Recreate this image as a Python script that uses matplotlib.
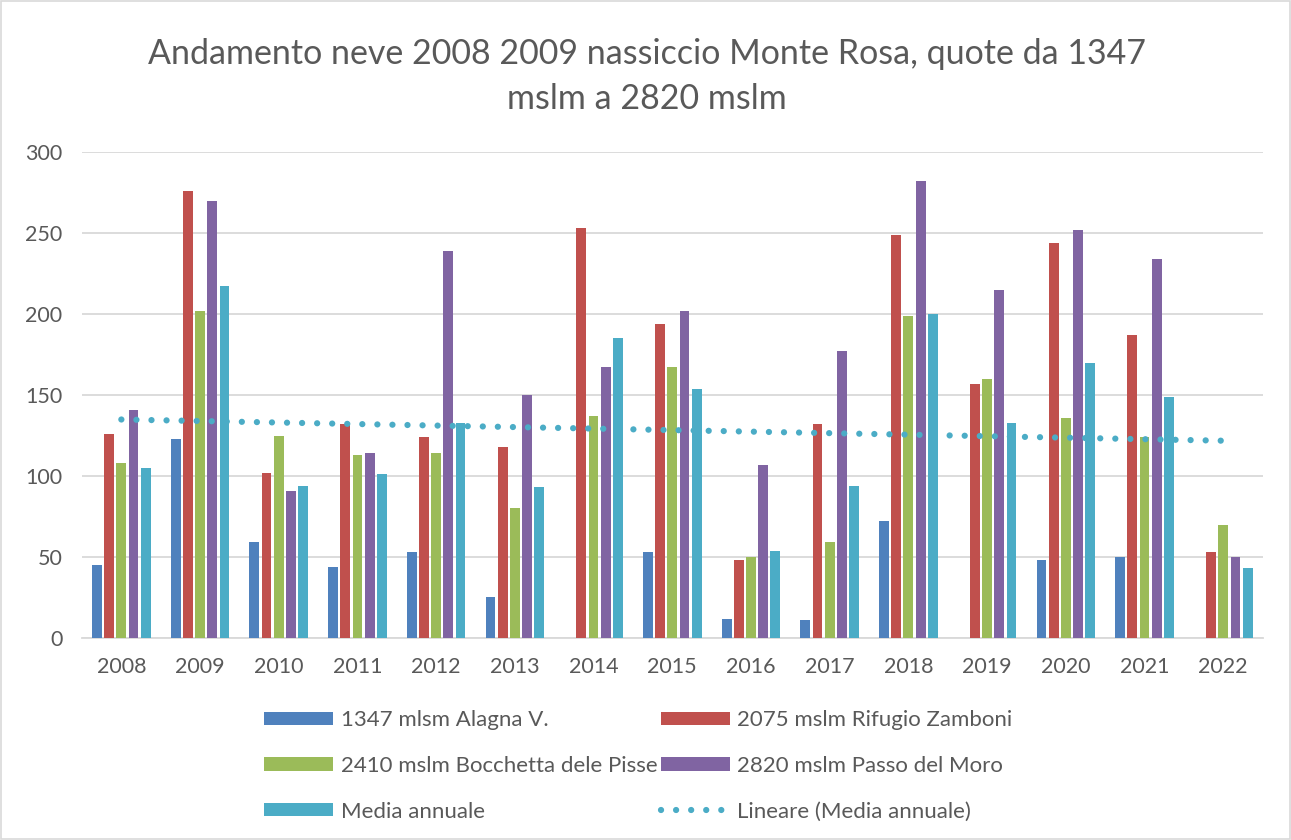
import numpy as np
import matplotlib.pyplot as plt
from matplotlib.patches import Rectangle

years = ['2008', '2009', '2010', '2011', '2012', '2013', '2014', '2015',
         '2016', '2017', '2018', '2019', '2020', '2021', '2022']

alagna = [45, 123, 59, 44, 53, 25, 0, 53, 12, 11, 72, 0, 48, 50, 0]
zamboni = [126, 276, 102, 132, 124, 118, 253, 194, 48, 132, 249, 157, 244, 187, 53]
pisse = [108, 202, 125, 113, 114, 80, 137, 167, 50, 59, 199, 160, 136, 124, 70]
moro = [141, 270, 91, 114, 239, 150, 167, 202, 107, 177, 282, 215, 252, 234, 50]
media = [105, 217, 94, 101, 133, 93, 185, 154, 54, 94, 200, 133, 170, 149, 43]

series_names = ['1347 mlsm Alagna V.', '2075 mslm Rifugio Zamboni',
                '2410 mslm Bocchetta dele Pisse', '2820 mslm Passo del Moro',
                'Media annuale']
colors = ['#4f81bd', '#c0504d', '#9bbb59', '#8064a2', '#4bacc6']

plt.rcParams['font.family'] = ['Lato', 'DejaVu Sans']
text_col = '#595959'

fig = plt.figure(figsize=(12.91, 8.40), dpi=100)
ax = fig.add_axes([0.0635, 0.2405, 0.9145, 0.5785])

x = np.arange(len(years))
width = 0.125
step = 0.155
handles = {}
for i, (vals, name, c) in enumerate(zip([alagna, zamboni, pisse, moro, media], series_names, colors)):
  b = ax.bar(x + (i - 2) * step, vals, width, color=c, label=name, zorder=3)
  handles[name] = b

# linear trend of the annual mean
coef = np.polyfit(x, media, 1)
trend, = ax.plot(x, np.polyval(coef, x), color='#4bacc6', linewidth=4.5,
                 linestyle=(0, (0.01, 2.4)), dash_capstyle='round', zorder=4,
                 label='Lineare (Media annuale)')

ax.set_xlim(-0.5, len(years) - 0.5)
ax.set_ylim(0, 300)
ax.set_yticks(range(0, 301, 50))
ax.set_xticks(x)
ax.set_xticklabels(years)
ax.tick_params(axis='both', length=0, labelsize=15.5, colors=text_col)
ax.tick_params(axis='y', pad=14)
ax.tick_params(axis='x', pad=14)
ax.grid(axis='y', color='#d9d9d9', linewidth=1.3, zorder=0)
for s in ['top', 'right', 'left']:
  ax.spines[s].set_visible(False)
ax.spines['bottom'].set_color('#d9d9d9')
ax.spines['bottom'].set_linewidth(1.3)

fig.suptitle('Andamento neve 2008 2009 nassiccio Monte Rosa, quote da 1347\nmslm a 2820 mslm',
             x=0.501, y=0.955, fontsize=24.5, color=text_col, linespacing=1.5)

order = [series_names[0], series_names[2], series_names[4], series_names[1], series_names[3]]
hl = [handles[n] for n in order[:3]] + [handles[n] for n in order[3:]] + [trend]
labels = order + ['Lineare (Media annuale)']
leg = fig.legend(hl, labels, ncol=2, loc='upper left', bbox_to_anchor=(0.189, 0.178),
                 frameon=False, fontsize=16, labelcolor=text_col, handlelength=3.1,
                 handleheight=0.55, labelspacing=1.15, columnspacing=0.15, handletextpad=0.35)

fig.patches.append(Rectangle((0.001, 0.001), 0.998, 0.998, transform=fig.transFigure,
                             fill=False, edgecolor='#d9d9d9', linewidth=1.2))

fig.savefig('out.png', dpi=100)
